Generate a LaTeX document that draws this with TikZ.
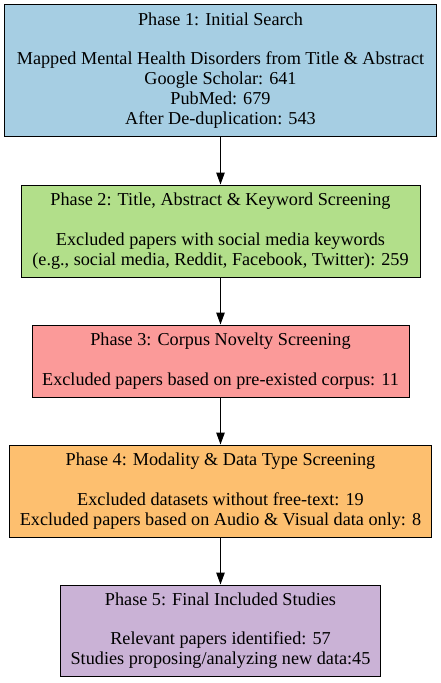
\documentclass[tikz,border=0pt]{standalone}
\usepackage{fontspec}
\setmainfont{Liberation Serif}
\usetikzlibrary{arrows.meta}
\definecolor{cblue}{HTML}{A6CEE3}
\definecolor{cgreen}{HTML}{B2DF8A}
\definecolor{cred}{HTML}{FB9A99}
\definecolor{corange}{HTML}{FDBF6F}
\definecolor{cpurple}{HTML}{CAB2D6}
\tikzset{
  phasebox/.style={draw=black, line width=1pt, inner sep=0pt, align=center,
    font=\fontsize{18.2pt}{19.8pt}\selectfont},
  arr/.style={-{Triangle[length=12pt,width=8.5pt]}, line width=1pt}
}
\begin{document}
\begin{tikzpicture}
\useasboundingbox (0,0) rectangle (441pt,-683pt);
\node[phasebox, fill=cblue, minimum width=432pt, minimum height=131.5pt] (p1) at (220.5pt,-70.25pt)
  {Phase 1: Initial Search\\[19.8pt]Mapped Mental Health Disorders from Title \& Abstract\\Google Scholar: 641\\PubMed: 679\\After De-duplication: 543};
\node[phasebox, fill=cgreen, minimum width=399pt, minimum height=92pt] (p2) at (220.5pt,-231pt)
  {Phase 2: Title, Abstract \& Keyword Screening\\[19.8pt]Excluded papers with social media keywords\\(e.g., social media, Reddit, Facebook, Twitter): 259};
\node[phasebox, fill=cred, minimum width=377pt, minimum height=72pt] (p3) at (220.5pt,-361pt)
  {Phase 3: Corpus Novelty Screening\\[19.8pt]Excluded papers based on pre-existed corpus: 11};
\node[phasebox, fill=corange, minimum width=422pt, minimum height=92pt] (p4) at (220.5pt,-491pt)
  {Phase 4: Modality \& Data Type Screening\\[19.8pt]Excluded datasets without free-text: 19\\Excluded papers based on Audio \& Visual data only: 8};
\node[phasebox, fill=cpurple, minimum width=319.5pt, minimum height=91pt] (p5) at (220.5pt,-630.5pt)
  {Phase 5: Final Included Studies\\[19.8pt]Relevant papers identified: 57\\Studies proposing/analyzing new data:45};
\draw[arr] (p1) -- (p2);
\draw[arr] (p2) -- (p3);
\draw[arr] (p3) -- (p4);
\draw[arr] (p4) -- (p5);
\end{tikzpicture}
\end{document}
